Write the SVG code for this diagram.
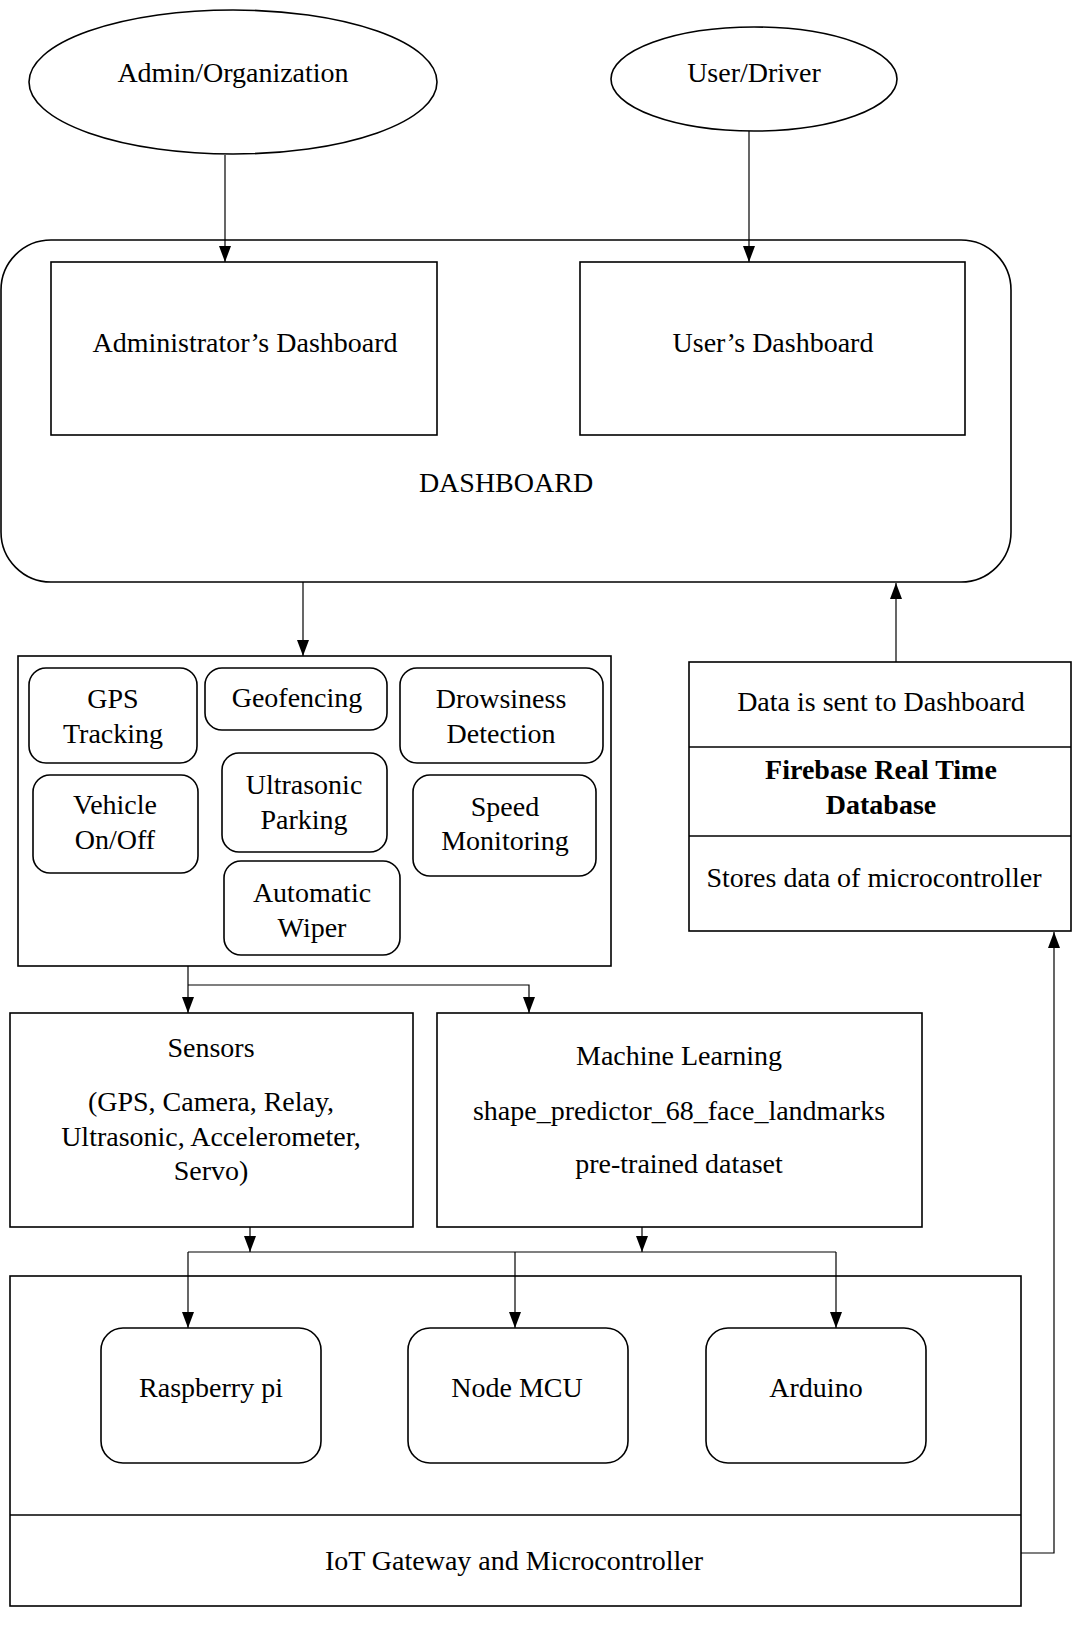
<svg xmlns="http://www.w3.org/2000/svg" width="1073" height="1638" viewBox="0 0 1073 1638">
<defs>
<style>
.s{fill:#fff;stroke:#000;stroke-width:1.6}
.c{fill:none;stroke:#000;stroke-width:1.2}
text{font-family:"Liberation Serif","Times New Roman",serif;font-size:28px;fill:#000;text-anchor:middle}
.b{font-weight:bold}
</style>
<marker id="ahl" viewBox="0 0 16 12" refX="16" refY="6" markerWidth="16" markerHeight="12" markerUnits="userSpaceOnUse" orient="auto">
<path d="M0,0 L16,6 L0,12 z" fill="#000"/>
</marker>
</defs>
<rect width="1073" height="1638" fill="#fff"/>

<g id="admin-org"><ellipse class="s" cx="233" cy="82" rx="204" ry="72"/><text x="233" y="82">Admin/Organization</text></g>
<g id="user-driver"><ellipse class="s" cx="754" cy="79" rx="143" ry="52"/><text x="754" y="82">User/Driver</text></g>

<g id="dashboard"><rect class="s" x="1" y="240" width="1010" height="342" rx="50"/><text x="506" y="492">DASHBOARD</text></g>
<g id="admin-dashboard"><rect class="s" x="51" y="262" width="386" height="173"/><text x="245" y="352">Administrator’s Dashboard</text></g>
<g id="user-dashboard"><rect class="s" x="580" y="262" width="385" height="173"/><text x="773" y="352">User’s Dashboard</text></g>

<g id="features"><rect class="s" x="18" y="656" width="593" height="310"/></g>
<g id="gps"><rect class="s" x="29" y="668" width="168" height="95" rx="17"/><text x="113" y="708">GPS</text><text x="113" y="743">Tracking</text></g>
<g id="geofencing"><rect class="s" x="205" y="668" width="182" height="62" rx="17"/><text x="297" y="707">Geofencing</text></g>
<g id="drowsiness"><rect class="s" x="400" y="668" width="203" height="95" rx="17"/><text x="501" y="708">Drowsiness</text><text x="501" y="743">Detection</text></g>
<g id="vehicle"><rect class="s" x="33" y="775" width="165" height="98" rx="17"/><text x="115" y="814">Vehicle</text><text x="115" y="849">On/Off</text></g>
<g id="ultrasonic"><rect class="s" x="222" y="753" width="165" height="99" rx="17"/><text x="304" y="794">Ultrasonic</text><text x="304" y="829">Parking</text></g>
<g id="speed"><rect class="s" x="413" y="775" width="183" height="101" rx="17"/><text x="505" y="816">Speed</text><text x="505" y="850">Monitoring</text></g>
<g id="wiper"><rect class="s" x="224" y="861" width="176" height="94" rx="17"/><text x="312" y="902">Automatic</text><text x="312" y="937">Wiper</text></g>

<g id="firebase"><rect class="s" x="689" y="662" width="382" height="269"/>
<line class="s" x1="689" y1="747" x2="1071" y2="747"/><line class="s" x1="689" y1="836" x2="1071" y2="836"/>
<text x="881" y="711">Data is sent to Dashboard</text>
<text class="b" x="881" y="779">Firebase Real Time</text><text class="b" x="881" y="814">Database</text>
<text x="874" y="887">Stores data of microcontroller</text></g>

<g id="sensors"><rect class="s" x="10" y="1013" width="403" height="214"/>
<text x="211" y="1057">Sensors</text><text x="211" y="1111">(GPS, Camera, Relay,</text><text x="211" y="1146">Ultrasonic, Accelerometer,</text><text x="211" y="1180">Servo)</text></g>
<g id="ml"><rect class="s" x="437" y="1013" width="485" height="214"/>
<text x="679" y="1065">Machine Learning</text><text x="679" y="1120">shape_predictor_68_face_landmarks</text><text x="679" y="1173">pre-trained dataset</text></g>

<g id="iot"><rect class="s" x="10" y="1276" width="1011" height="330"/><line class="s" x1="10" y1="1515" x2="1021" y2="1515"/>
<text x="514" y="1570">IoT Gateway and Microcontroller</text></g>
<g id="raspberry"><rect class="s" x="101" y="1328" width="220" height="135" rx="22"/><text x="211" y="1397">Raspberry pi</text></g>
<g id="nodemcu"><rect class="s" x="408" y="1328" width="220" height="135" rx="22"/><text x="517" y="1397">Node MCU</text></g>
<g id="arduino"><rect class="s" x="706" y="1328" width="220" height="135" rx="22"/><text x="816" y="1397">Arduino</text></g>

<g id="connectors">
<line class="c" x1="225" y1="155" x2="225" y2="262" marker-end="url(#ahl)"/>
<line class="c" x1="749" y1="131" x2="749" y2="262" marker-end="url(#ahl)"/>
<line class="c" x1="303" y1="582" x2="303" y2="656" marker-end="url(#ahl)"/>
<line class="c" x1="896" y1="662" x2="896" y2="583" marker-end="url(#ahl)"/>
<polyline class="c" points="188,966 188,1013" marker-end="url(#ahl)"/>
<polyline class="c" points="188,985 529,985 529,1013" marker-end="url(#ahl)"/>
<line class="c" x1="250" y1="1227" x2="250" y2="1252" marker-end="url(#ahl)"/>
<line class="c" x1="642" y1="1227" x2="642" y2="1252" marker-end="url(#ahl)"/>
<polyline class="c" points="188,1252 836,1252"/>
<line class="c" x1="188" y1="1252" x2="188" y2="1328" marker-end="url(#ahl)"/>
<line class="c" x1="515" y1="1252" x2="515" y2="1328" marker-end="url(#ahl)"/>
<line class="c" x1="836" y1="1252" x2="836" y2="1328" marker-end="url(#ahl)"/>
<polyline class="c" points="1021,1553 1054,1553 1054,932" marker-end="url(#ahl)"/>
</g>
</svg>
